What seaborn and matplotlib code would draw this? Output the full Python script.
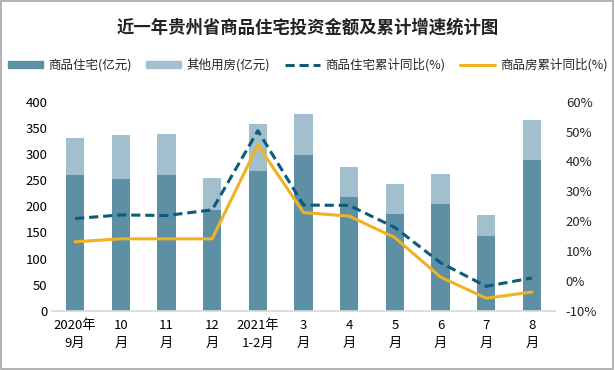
import numpy as np
import pandas as pd
import matplotlib
matplotlib.use("Agg")
import matplotlib.pyplot as plt
from matplotlib.lines import Line2D
from matplotlib.patches import Patch, Rectangle
import seaborn as sns

sns.set_theme(style="white")
plt.rcParams['font.family'] = ['Noto Sans CJK SC', 'DejaVu Sans']

# data
months = ["2020年\n9月", "10\n月", "11\n月", "12\n月", "2021年\n1-2月", "3\n月",
          "4\n月", "5\n月", "6\n月", "7\n月", "8\n月"]
residential = [260, 253, 260, 193, 268, 299, 218, 186, 205, 144, 289]
other_use = [71, 84, 79, 62, 90, 78, 57, 57, 57, 40, 77]
resid_yoy = [20.9, 22.1, 21.9, 23.8, 50.3, 25.4, 25.3, 17.9, 6.1, -1.8, 1.0]
housing_yoy = [13.1, 14.1, 14.1, 14.1, 45.5, 22.9, 21.7, 14.5, 1.3, -5.8, -3.7]

c_dark = "#5d8fa5"
c_light = "#a1bfcc"
c_dash = "#0d5a79"
c_gold = "#f0b222"

df = pd.DataFrame({"month": months, "resid": residential, "other": other_use,
                   "total": np.array(residential) + np.array(other_use),
                   "r_yoy": resid_yoy, "h_yoy": housing_yoy})

fig = plt.figure(figsize=(6.15, 3.7), dpi=100)
ax = fig.add_axes([0.085, 0.16, 0.817, 0.565])

sns.barplot(data=df, x="month", y="total", color=c_light, width=0.4,
            saturation=1, linewidth=0, ax=ax)
sns.barplot(data=df, x="month", y="resid", color=c_dark, width=0.4,
            saturation=1, linewidth=0, ax=ax)
ax.set_ylim(0, 400)
ax.set_yticks(range(0, 401, 50))
ax.set_xlim(-0.5, len(months) - 0.5)
ax.set_xlabel("")
ax.set_ylabel("")
for s in ["top", "right", "left"]:
    ax.spines[s].set_visible(False)
ax.spines["bottom"].set_color("#d9d9d9")
ax.tick_params(axis="both", length=0, labelsize=9.5, colors="#000000")
ax.tick_params(axis="x", pad=6)
for t in ax.get_xticklabels():
    t.set_linespacing(1.5)

ax2 = ax.twinx()
sns.lineplot(x=np.arange(len(months)), y=df["r_yoy"], color=c_dash, lw=2.2,
             linestyle=(0, (3, 1.6)), ax=ax2)
sns.lineplot(x=np.arange(len(months)), y=df["h_yoy"], color=c_gold, lw=2.2, ax=ax2)
ax2.set_ylim(-10, 60)
ax2.set_yticks(range(-10, 61, 10))
ax2.set_yticklabels([f"{v}%" for v in range(-10, 61, 10)])
ax2.set_ylabel("")
for s in ax2.spines.values():
    s.set_visible(False)
ax2.tick_params(axis="y", length=0, labelsize=9.5, pad=8)

fig.text(0.5, 0.925, "近一年贵州省商品住宅投资金额及累计增速统计图", ha="center",
         va="center", fontsize=12.5, fontweight="bold", color="#222222")

handles = [Patch(color=c_dark), Patch(color=c_light),
           Line2D([], [], color=c_dash, lw=2.2, linestyle=(0, (3, 1.6))),
           Line2D([], [], color=c_gold, lw=2.2)]
labels = ["商品住宅(亿元)", "其他用房(亿元)", "商品住宅累计同比(%)", "商品房累计同比(%)"]
fig.legend(handles, labels, loc="center", bbox_to_anchor=(0.5, 0.825), ncol=4,
           frameon=False, fontsize=9, handlelength=2.8, handleheight=0.5,
           columnspacing=1.2, handletextpad=0.4)

fig.add_artist(Rectangle((0.002, 0.003), 0.995, 0.993, transform=fig.transFigure,
                         fill=False, edgecolor="#a6a6a6", lw=1.2))

fig.savefig("out.png", dpi=100)
